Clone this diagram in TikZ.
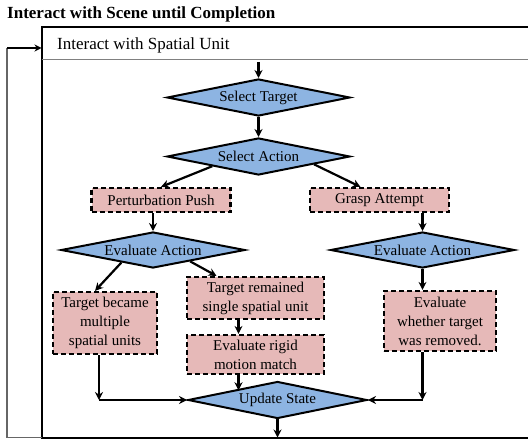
\documentclass[tikz,border=0pt]{standalone}
\usepackage{fontspec}
\setmainfont{Liberation Serif}
\usetikzlibrary{shapes.geometric,arrows.meta,calc}
\definecolor{boxpink}{HTML}{E6B9B8}
\definecolor{diablue}{HTML}{8DB4E2}
\tikzset{
  decision/.style={diamond, draw, line width=2pt, fill=diablue, shape aspect=5,
    inner sep=0pt, minimum width=183pt, minimum height=37pt},
  process/.style={rectangle, draw, line width=2.2pt, dash pattern=on 5pt off 3pt,
    fill=boxpink, align=center, inner sep=1pt},
  arr/.style={-{Stealth[length=8pt,width=8pt]}, line width=2.2pt},
}
\begin{document}
\begin{tikzpicture}[x=1pt, y=-1pt, font=\fontsize{15}{19}\selectfont]
\useasboundingbox (0,0) rectangle (528,441);

% outer frame
\node[anchor=west, inner sep=0pt, font=\fontsize{17}{20}\selectfont\bfseries] (title) at (7,14) {Interact with Scene until Completion};
\draw[line width=2pt] (528,27) -- (41.5,27) -- (41.5,437.5) -- (528,437.5);
\draw[gray, line width=1.4pt] (41.5,59.5) -- (528,59.5);
\node[anchor=west, inner sep=0pt, font=\fontsize{17}{20}\selectfont] (unit) at (57,45) {Interact with Spatial Unit};

% loop back
\coordinate (loopout) at (41.5,437.5);
\coordinate (loopfoot) at (7,437.5);
\coordinate (looptop) at (7,48);
\coordinate (loopin) at (41.5,48);
\draw[gray!80!black, line width=1.2pt] (loopout) -- (loopfoot) -- (looptop);
\draw[-{Stealth[length=7pt,width=7pt]}, line width=1.2pt] (looptop) -- (loopin);

% nodes
\node[decision] (seltarget) at (258.5,97.5) {Select Target};
\node[decision] (selaction) at (258.5,156.5) {Select Action};
\node[process, minimum width=139pt, minimum height=24pt] (push) at (161,200) {Perturbation Push};
\node[process, minimum width=139pt, minimum height=24pt] (grasp) at (379.5,200) {Grasp Attempt};
\node[decision, minimum width=184pt, minimum height=36pt] (evalpush) at (153,250) {Evaluate Action};
\node[decision, minimum width=184pt, minimum height=36pt] (evalgrasp) at (422.5,250) {Evaluate Action};
\node[process, minimum width=104pt, minimum height=62pt] (multi) at (105,323) {Target became\\multiple\\spatial units};
\node[process, minimum width=137pt, minimum height=42pt] (single) at (255.5,298) {Target remained\\single spatial unit};
\node[process, minimum width=137pt, minimum height=39pt] (rigid) at (255.5,354.5) {Evaluate rigid\\motion match};
\node[process, minimum width=112pt, minimum height=60pt] (removed) at (440,321) {Evaluate\\whether target\\was removed.};
\node[decision, minimum width=179pt] (update) at (277.5,400) {Update State};

% connectors
\coordinate (entry) at (258.5,62);
\coordinate (exit) at (277.5,437.5);
\coordinate (lfoot) at ([xshift=-6pt]multi.south);
\coordinate (cfoot) at ([xshift=-17pt]rigid.south);
\draw[arr] (entry) -- (seltarget);
\draw[arr] (seltarget) -- (selaction);
\draw[arr] ($(selaction.south)!0.5!(selaction.west)$) -- (push.north);
\draw[arr] ($(selaction.south)!0.6!(selaction.east)$) -- ([xshift=-19pt]grasp.north);
\draw[arr] (push.south -| evalpush.north) -- (evalpush);
\draw[arr] (grasp.south -| evalgrasp.north) -- (evalgrasp);
\draw[arr] ($(evalpush.south)!0.34!(evalpush.west)$) -- ([xshift=-10pt]multi.north);
\draw[arr] ($(evalpush.south)!0.4!(evalpush.east)$) -- ([xshift=-39pt]single.north);
\draw[arr] ([xshift=-17pt]single.south) -- ([xshift=-17pt]rigid.north);
\draw[arr] (cfoot) -- (cfoot |- update.north west);
\draw[arr] (evalgrasp) -- (evalgrasp.south |- removed.north);
\draw[arr] (lfoot) -- (lfoot |- update.west) coordinate (lbend);
\draw[arr] (lbend) -- (update.west);
\draw[arr] (evalgrasp.south |- removed.south) -- (evalgrasp.south |- update.east) coordinate (rbend);
\draw[arr] (rbend) -- (update.east);
\draw[arr] (update) -- (exit);
\end{tikzpicture}
\end{document}
